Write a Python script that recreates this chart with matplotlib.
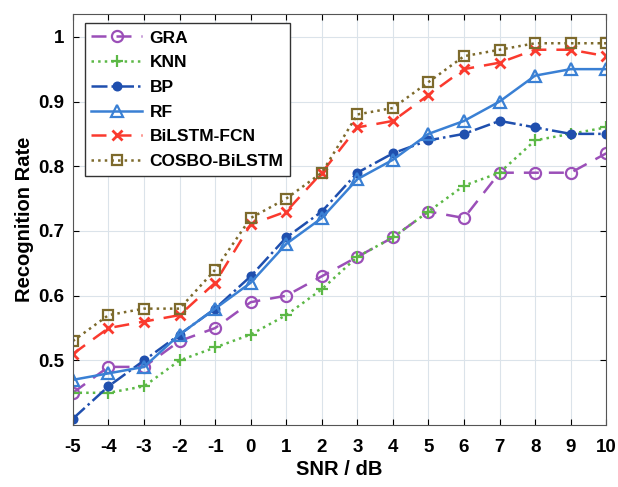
import numpy as np
import matplotlib
matplotlib.use('Agg')
import matplotlib.pyplot as plt

snr = [-5, -4, -3, -2, -1, 0, 1, 2, 3, 4, 5, 6, 7, 8, 9, 10]
gra = [0.45, 0.49, 0.49, 0.53, 0.55, 0.59, 0.60, 0.63, 0.66, 0.69, 0.73, 0.72, 0.79, 0.79, 0.79, 0.82]
knn = [0.45, 0.45, 0.46, 0.50, 0.52, 0.54, 0.57, 0.61, 0.66, 0.69, 0.73, 0.77, 0.79, 0.84, 0.85, 0.86]
bp = [0.41, 0.46, 0.50, 0.54, 0.58, 0.63, 0.69, 0.73, 0.79, 0.82, 0.84, 0.85, 0.87, 0.86, 0.85, 0.85]
rf = [0.47, 0.48, 0.49, 0.54, 0.58, 0.62, 0.68, 0.72, 0.78, 0.81, 0.85, 0.87, 0.90, 0.94, 0.95, 0.95]
bilstm_fcn = [0.51, 0.55, 0.56, 0.57, 0.62, 0.71, 0.73, 0.79, 0.86, 0.87, 0.91, 0.95, 0.96, 0.98, 0.98, 0.97]
cosbo = [0.53, 0.57, 0.58, 0.58, 0.64, 0.72, 0.75, 0.79, 0.88, 0.89, 0.93, 0.97, 0.98, 0.99, 0.99, 0.99]

plt.rcParams['font.family'] = ['Liberation Sans', 'DejaVu Sans']
plt.rcParams['font.weight'] = 'bold'
plt.rcParams['axes.unicode_minus'] = False

fig = plt.figure(figsize=(6.18, 4.87), dpi=100)
ax = fig.add_axes([0.118, 0.127, 0.863, 0.844])

ax.plot(snr, gra, color='#9b4fb8', ls=(0, (6, 4)), lw=1.8, marker='o', ms=8,
        mfc='none', mew=1.6, label='GRA')
ax.plot(snr, knn, color='#5cb846', ls=':', lw=1.8, marker='+', ms=8,
        mew=1.6, label='KNN')
ax.plot(snr, bp, color='#1f4fae', ls='-.', lw=1.8, marker='o', ms=6,
        mew=1.2, label='BP')
ax.plot(snr, rf, color='#3a80d4', ls='-', lw=1.8, marker='^', ms=9,
        mfc='none', mew=1.6, label='RF')
ax.plot(snr, bilstm_fcn, color='#fa3a2e', ls=(0, (6, 4)), lw=1.8, marker='x', ms=7,
        mew=2, label='BiLSTM-FCN')
ax.plot(snr, cosbo, color='#7d6a2c', ls=':', lw=1.8, marker='s', ms=7,
        mfc='none', mew=1.6, label='COSBO-BiLSTM')

ax.set_xlim(-5, 10)
ax.set_ylim(0.4, 1.035)
ax.set_xticks(snr)
ax.set_yticks([0.5, 0.6, 0.7, 0.8, 0.9, 1.0])
ax.set_yticklabels(['0.5', '0.6', '0.7', '0.8', '0.9', '1'])
ax.tick_params(direction='in', top=True, right=True, labelsize=13.5, length=4)
ax.tick_params(axis='x', pad=10)
ax.tick_params(axis='y', pad=6)
ax.grid(True, color='#dbe3ea', lw=0.8)
ax.set_axisbelow(True)
for s in ax.spines.values():
    s.set_color('#555555')

ax.set_xlabel('SNR / dB', fontsize=14.5, fontweight='bold', labelpad=3)
ax.set_ylabel('Recognition Rate', fontsize=14.5, fontweight='bold', labelpad=3)

leg = ax.legend(loc='upper left', bbox_to_anchor=(0.012, 0.99), fontsize=12.5,
                fancybox=False, edgecolor='#333333', framealpha=1,
                handlelength=2.9, labelspacing=0.55, borderaxespad=0.3,
                handletextpad=0.45, borderpad=0.4)
leg.get_frame().set_linewidth(1.0)

fig.savefig('out.png', dpi=100)
